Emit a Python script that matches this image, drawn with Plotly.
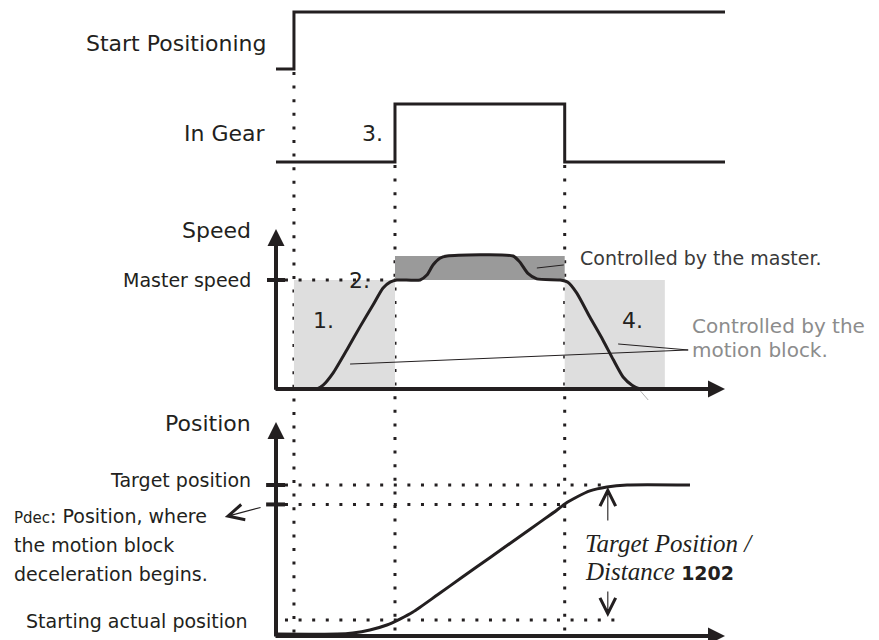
import plotly.graph_objects as go

# ---------------- data ----------------
# time axis in arbitrary units: 0 = axis origin, 100 = end of the time axis
t_start_positioning = 4.0
t_in_gear_on = 26.5
t_in_gear_off = 64.3
t_motion_block_end = 86.6
t_axis_end = 100.0

start_pos_t = [0.0, 4.0, 100.0]
start_pos_level = [0, 1, 1]

in_gear_t = [0.0, 26.5, 64.3, 100.0]
in_gear_level = [0, 1, 0, 0]

# speed in % of master speed
master_speed = 100
speed_peak = 122
speed_t = [0, 9.1, 10.5, 12.7, 15.8, 18.7, 21.6, 23.8, 25.4, 26.9, 32.1, 33.6,
           35.0, 36.5, 38.1, 52.8, 54.3, 56.1, 58.1, 63.3, 65.0, 67.0, 69.9,
           72.8, 75.1, 77.3, 79.3, 81.1, 82.2]
speed_pct = [0, 0, 3.5, 14.5, 36, 57, 77, 92.5, 98, 100, 100, 104.5,
             114, 120, 122, 122, 116.5, 106, 101, 100, 98, 88, 66,
             45, 27, 11, 3.5, 0, 0]

# position in % of distance (0 = starting actual position, 100 = target)
start_position = 0
pdec_position = 85.6
target_position = 100
position_t = [0, 13.6, 17.1, 20.9, 24.7, 27.6, 30.5, 35.9, 41.6, 47.7,
              54.3, 58.8, 62.6, 64.4, 67.0, 69.9, 73.7, 78.2, 92.2]
position_pct = [-10.4, -10.4, -9.6, -7.4, -3.7, 0.7, 5.9, 18.5, 32.0, 46.3,
                61.9, 72.5, 81.5, 86.2, 91.1, 95.6, 98.5, 100, 100]

# ---------------- layout helpers (positions / styles) ----------------
W, H = 879, 640
OFF = 8  # page body margin: window pixel = figure pixel + 8
INK = "#231f20"
FONT = "DejaVu Sans"
DOT = "3px,10.6px"


def x_range(v_a, px_a, v_b, px_b):
    px_a -= OFF
    px_b -= OFF
    k = (px_b - px_a) / (v_b - v_a)
    lo = v_a - px_a / k
    return [lo, lo + W / k]


def y_range(v_a, py_a, v_b, py_b):
    py_a -= OFF
    py_b -= OFF
    k = (py_a - py_b) / (v_b - v_a)
    hi = v_a + py_a / k
    return [hi - H / k, hi]


def py(p):
    return 1 - (p - OFF) / H


def px(p):
    return (p - OFF) / W


fig = go.Figure()
line = dict(color=INK, width=3)
fig.add_trace(go.Scatter(x=start_pos_t, y=start_pos_level, mode="lines",
                         line=dict(shape="hv", **line), yaxis="y", hoverinfo="skip"))
fig.add_trace(go.Scatter(x=in_gear_t, y=in_gear_level, mode="lines",
                         line=dict(shape="hv", **line), yaxis="y2", hoverinfo="skip"))
fig.add_trace(go.Scatter(x=speed_t, y=speed_pct, mode="lines",
                         line=dict(shape="spline", smoothing=0.6, **line), yaxis="y3", hoverinfo="skip"))
fig.add_trace(go.Scatter(x=position_t, y=position_pct, mode="lines",
                         line=dict(shape="spline", smoothing=0.6, **line), yaxis="y4", hoverinfo="skip"))

shapes = []
# shaded regions in the speed panel
shapes.append(dict(type="rect", xref="x", yref="y3", x0=t_start_positioning, x1=t_in_gear_on,
                   y0=0, y1=master_speed, fillcolor="#dedede", line=dict(width=0), layer="below"))
shapes.append(dict(type="rect", xref="x", yref="y3", x0=t_in_gear_off, x1=t_motion_block_end,
                   y0=0, y1=master_speed, fillcolor="#dedede", line=dict(width=0), layer="below"))
shapes.append(dict(type="rect", xref="x", yref="y3", x0=t_in_gear_on, x1=t_in_gear_off,
                   y0=master_speed, y1=speed_peak, fillcolor="#9a9a9a", line=dict(width=0), layer="below"))
# vertical dotted event lines
dotted = dict(color=INK, width=3, dash=DOT)
shapes.append(dict(type="line", xref="x", yref="paper", x0=t_start_positioning, x1=t_start_positioning,
                   y0=py(72), y1=py(637), line=dotted, layer="below"))
shapes.append(dict(type="line", xref="x", yref="paper", x0=t_in_gear_on, x1=t_in_gear_on,
                   y0=py(165), y1=py(637), line=dotted, layer="below"))
shapes.append(dict(type="line", xref="x", yref="paper", x0=t_in_gear_off, x1=t_in_gear_off,
                   y0=py(165), y1=py(633), line=dotted, layer="below"))
# horizontal dotted lines
shapes.append(dict(type="line", xref="x", yref="y3", x0=2, x1=t_in_gear_on,
                   y0=master_speed, y1=master_speed, line=dotted, layer="below"))
shapes.append(dict(type="line", xref="x", yref="y4", x0=2, x1=73.9,
                   y0=target_position, y1=target_position, line=dotted, layer="below"))
shapes.append(dict(type="line", xref="x", yref="y4", x0=2, x1=t_in_gear_off,
                   y0=pdec_position, y1=pdec_position, line=dotted, layer="below"))
shapes.append(dict(type="line", xref="x", yref="y4", x0=2, x1=76.4,
                   y0=start_position, y1=start_position, line=dotted, layer="below"))
# axis ticks
tick = dict(color=INK, width=4)
shapes.append(dict(type="line", xref="x", yref="y3", x0=-2, x1=2, y0=master_speed, y1=master_speed, line=tick))
shapes.append(dict(type="line", xref="x", yref="y4", x0=-2.2, x1=2, y0=target_position, y1=target_position, line=tick))
shapes.append(dict(type="line", xref="x", yref="y4", x0=-2.2, x1=2, y0=pdec_position, y1=pdec_position, line=tick))
# leader lines
thin = dict(color=INK, width=1)
shapes.append(dict(type="line", xref="x", yref="y3", x0=58.1, x1=64.1, y0=111, y1=113.8, line=thin))
shapes.append(dict(type="line", xref="x", yref="y3", x0=16.5, x1=91.8, y0=22.9, y1=35.8, line=thin))
shapes.append(dict(type="line", xref="x", yref="y3", x0=76.2, x1=91.8, y0=41.3, y1=35.8, line=thin))
shapes.append(dict(type="line", xref="x", yref="y3", x0=80.4, x1=82.9, y0=1.8, y1=-10.1,
                   line=dict(color="#b0b0b0", width=1)))

ann = []
# axes with arrow heads
for yref, x, y, ax, ay in [("y3", 0, 146.8, 0, -2.0), ("y3", t_axis_end, 0, -0.45, 0),
                           ("y4", 0, 146.7, 0, -13.3), ("y4", t_axis_end, -11.9, -0.45, -11.9)]:
    ann.append(dict(xref="x", yref=yref, axref="x", ayref=yref, x=x, y=y, ax=ax, ay=ay,
                    text="", showarrow=True, arrowhead=2, arrowwidth=4, arrowsize=0.85,
                    arrowcolor=INK))
# thin pointer arrows
for yref, x, y, ax, ay in [("y4", -11.4, 76.3, -3.1, 83.7), ("y4", 73.9, 98.5, 73.9, 72.6),
                           ("y4", 73.9, 2.2, 73.9, 22.2)]:
    ann.append(dict(xref="x", yref=yref, axref="x", ayref=yref, x=x, y=y, ax=ax, ay=ay,
                    text="", showarrow=True, arrowhead=5, arrowwidth=1.1, arrowsize=2.8,
                    arrowcolor=INK))


def label(text, x, y, xref="paper", yref="paper", size=22, xanchor="right", color=INK, family=FONT):
    ann.append(dict(text=text, x=x, y=y, xref=xref, yref=yref, xanchor=xanchor, yanchor="middle",
                    showarrow=False, font=dict(family=family, size=size, color=color)))


label("Start Positioning", px(268), 0.45, yref="y")
label("In Gear", px(267), 0.5, yref="y2")
label("3.", 21.4, 0.5, xref="x", yref="y2", xanchor="center")
label("Speed", px(253), 145, yref="y3")
label("Master speed", px(253), master_speed, yref="y3", size=19)
label("1.", 10.5, 63, xref="x", yref="y3", xanchor="center")
label("2.", 18.5, master_speed, xref="x", yref="y3", xanchor="center")
label("4.", 79.3, 63, xref="x", yref="y3", xanchor="center")
label("Controlled by the master.", 67.3, 120, xref="x", yref="y3", size=19, xanchor="left", color="#3a3a3a")
label("Controlled by the", 92.2, 57.8, xref="x", yref="y3", size=20, xanchor="left", color="#8c8c8c")
label("motion block.", 92.2, 35.8, xref="x", yref="y3", size=20, xanchor="left", color="#8c8c8c")
label("Position", px(253), 145.2, yref="y4")
label("Target position", px(253), 103.7, yref="y4", size=19)
label('<span style="font-size:15px">Pdec</span>: Position, where', px(12), 77, yref="y4", size=19, xanchor="left")
label("the motion block", px(12), 55.6, yref="y4", size=19, xanchor="left")
label("deceleration begins.", px(12), 34, yref="y4", size=19, xanchor="left")
label("Starting actual position", px(250), -0.7, yref="y4", size=19)
label("<i>Target Position /</i>", 68.4, 57, xref="x", yref="y4", size=25, xanchor="left",
      family="Liberation Serif")
label('<i>Distance</i> <span style="font-family:DejaVu Sans;font-size:19px"><b>1202</b></span>',
      68.4, 35.6, xref="x", yref="y4", size=25, xanchor="left", family="Liberation Serif")

hidden = dict(visible=False, fixedrange=True)
fig.update_layout(
    width=W, height=H, margin=dict(l=0, r=0, t=0, b=0),
    paper_bgcolor="white", plot_bgcolor="white", showlegend=False,
    xaxis=dict(domain=[0, 1], range=x_range(0, 276, 100, 725), **hidden),
    yaxis=dict(domain=[0, 1], range=y_range(0, 69, 1, 12), **hidden),
    yaxis2=dict(domain=[0, 1], range=y_range(0, 162, 1, 104), overlaying="y", **hidden),
    yaxis3=dict(domain=[0, 1], range=y_range(0, 389, 100, 280), overlaying="y", **hidden),
    yaxis4=dict(domain=[0, 1], range=y_range(0, 620, 100, 485), overlaying="y", **hidden),
    shapes=shapes, annotations=ann,
)
fig.write_html("out.html")
